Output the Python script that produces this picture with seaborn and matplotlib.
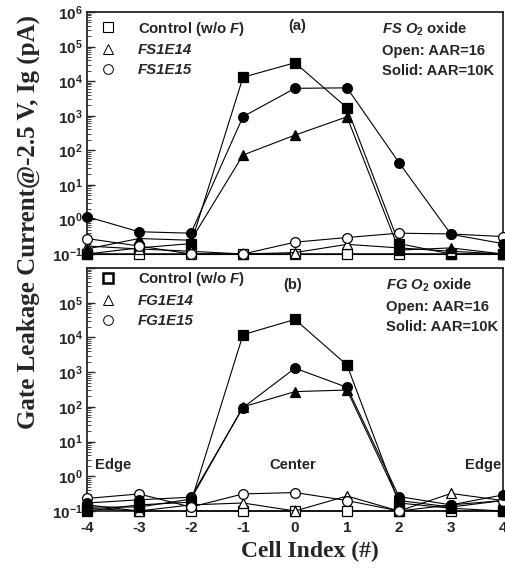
import numpy as np
import pandas as pd
import matplotlib
matplotlib.use("Agg")
import matplotlib.pyplot as plt
import seaborn as sns
from matplotlib.lines import Line2D
from matplotlib.ticker import FixedLocator, FuncFormatter, LogLocator, NullFormatter

# ---------------- data ----------------
cells = [-4, -3, -2, -1, 0, 1, 2, 3, 4]

# panel (a): FS O2 oxide
a_ctrl_16 = [0.1, 0.1, 0.1, 0.1, 0.1, 0.1, 0.1, 0.1, 0.1]
a_ctrl_10k = [0.1, 0.15, 0.2, 1.3e4, 3.4e4, 1.7e3, 0.2, 0.1, 0.1]
a_e14_16 = [0.17, 0.14, 0.12, 0.1, 0.11, 0.19, 0.15, 0.12, 0.1]
a_e14_10k = [0.14, 0.28, 0.25, 73, 275, 930, 0.13, 0.15, 0.1]
a_e15_16 = [0.28, 0.17, 0.1, 0.1, 0.22, 0.3, 0.4, 0.38, 0.32]
a_e15_10k = [1.2, 0.44, 0.4, 940, 6.2e3, 6.4e3, 44, 0.37, 0.2]

# panel (b): FG O2 oxide
b_ctrl_16 = [0.12, 0.1, 0.1, 0.1, 0.1, 0.1, 0.1, 0.1, 0.1]
b_ctrl_10k = [0.1, 0.15, 0.18, 1.2e4, 3.3e4, 1.6e3, 0.17, 0.12, 0.1]
b_e14_16 = [0.15, 0.1, 0.15, 0.17, 0.1, 0.27, 0.1, 0.32, 0.2]
b_e14_10k = [0.13, 0.13, 0.22, 100, 275, 305, 0.2, 0.13, 0.2]
b_e15_16 = [0.23, 0.31, 0.13, 0.31, 0.34, 0.2, 0.1, 0.15, 0.2]
b_e15_10k = [0.17, 0.21, 0.25, 95, 1.3e3, 365, 0.26, 0.15, 0.29]

legend_a = [r"Control (w/o $\mathit{F}$)", "FS1E14", "FS1E15"]
legend_b = [r"Control (w/o $\mathit{F}$)", "FG1E14", "FG1E15"]
x_ticks = [-4, -3, -2, -1, 0, 1, 2, 3, 4]

# ---------------- style ----------------
sns.set_theme(style="ticks")
plt.rcParams.update({
    "font.family": ["Liberation Sans", "DejaVu Sans"],
    "font.weight": "bold",
    "mathtext.fontset": "custom",
    "mathtext.rm": "Liberation Sans:bold",
    "mathtext.bf": "Liberation Sans:bold",
    "mathtext.it": "Liberation Sans:bold:italic",
    "mathtext.default": "rm",
    "axes.linewidth": 1.3,
})

fig = plt.figure(figsize=(5.06, 5.74), dpi=100)
W, H = 506, 574
ax_a = fig.add_axes([87 / W, (H - 254) / H, 416 / W, 242 / H])
ax_b = fig.add_axes([87 / W, (H - 511) / H, 416 / W, 243 / H])

def draw_panel(ax, series):
    for vals, marker, filled in series:
        sns.lineplot(x=cells, y=vals, ax=ax, color="black", linewidth=0.8,
                     marker=marker, markersize=7,
                     markerfacecolor="black" if filled else "white",
                     markeredgecolor="black", markeredgewidth=0.9,
                     clip_on=False, zorder=3)
    ax.set_yscale("log")
    ax.set_ylim(0.1, 1e6)
    ax.set_xlim(-4, 4)
    ax.set_xlabel("")
    ax.set_ylabel("")
    ax.yaxis.set_major_locator(FixedLocator([10.0 ** k for k in range(-1, 7)]))
    ax.yaxis.set_minor_locator(LogLocator(base=10, subs=np.arange(2, 10)))
    ax.yaxis.set_minor_formatter(NullFormatter())
    ax.tick_params(axis="y", which="major", direction="in", length=6, width=1.0,
                   labelsize=11, pad=3)
    ax.tick_params(axis="y", which="minor", direction="in", length=3, width=0.6)
    ax.xaxis.set_major_locator(FixedLocator(x_ticks))
    ax.tick_params(axis="x", which="major", direction="in", length=4, width=1.0,
                   labelsize=11, pad=7)
    for s in ax.spines.values():
        s.set_linewidth(1.3)

series_a = [(a_ctrl_16, "s", False), (a_ctrl_10k, "s", True),
            (a_e14_16, "^", False), (a_e14_10k, "^", True),
            (a_e15_16, "o", False), (a_e15_10k, "o", True)]
series_b = [(b_ctrl_16, "s", False), (b_ctrl_10k, "s", True),
            (b_e14_16, "^", False), (b_e14_10k, "^", True),
            (b_e15_16, "o", False), (b_e15_10k, "o", True)]
draw_panel(ax_a, series_a)
draw_panel(ax_b, series_b)

def fmt_top(v, pos):
    k = int(round(np.log10(v)))
    return r"$10^{%d}$" % k

def fmt_bot(v, pos):
    k = int(round(np.log10(v)))
    if k >= 6:
        return ""
    return r"$10^{%d}$" % k

ax_a.yaxis.set_major_formatter(FuncFormatter(fmt_top))
ax_b.yaxis.set_major_formatter(FuncFormatter(fmt_bot))
ax_a.tick_params(axis="x", labelbottom=False)
ax_b.set_xticklabels([str(t) for t in x_ticks])

# legends
def make_legend(ax, labels, sq_lw, y0):
    handles = [
        Line2D([], [], linestyle="none", marker="s", markersize=7,
               markerfacecolor="white", markeredgecolor="black", markeredgewidth=sq_lw),
        Line2D([], [], linestyle="none", marker="^", markersize=7,
               markerfacecolor="white", markeredgecolor="black", markeredgewidth=0.7),
        Line2D([], [], linestyle="none", marker="o", markersize=7,
               markerfacecolor="white", markeredgecolor="black", markeredgewidth=0.7),
    ]
    leg = ax.legend(handles, labels, loc="upper left", bbox_to_anchor=(0.033, y0),
                    frameon=False, fontsize=10.8, handlelength=1.0,
                    handletextpad=1.5, labelspacing=0.38, borderaxespad=0,
                    borderpad=0)
    for i, t in enumerate(leg.get_texts()):
        if i > 0:
            t.set_fontstyle("italic")
    return leg

make_legend(ax_a, legend_a, 0.8, 0.968)
make_legend(ax_b, legend_b, 1.8, 0.99)

txt = dict(fontsize=10.6, fontweight="bold")
ax_a.text(0.505, 0.942, "(a)", transform=ax_a.transAxes, ha="center", va="center", **txt)
ax_a.text(0.709, 0.930, r"$\mathit{FS\ O_2}$ oxide", transform=ax_a.transAxes, ha="left", va="center", **txt)
ax_a.text(0.709, 0.839, "Open: AAR=16", transform=ax_a.transAxes, ha="left", va="center", **txt)
ax_a.text(0.709, 0.756, "Solid: AAR=10K", transform=ax_a.transAxes, ha="left", va="center", **txt)

ax_b.text(0.495, 0.930, "(b)", transform=ax_b.transAxes, ha="center", va="center", **txt)
ax_b.text(0.718, 0.930, r"$\mathit{FG\ O_2}$ oxide", transform=ax_b.transAxes, ha="left", va="center", **txt)
ax_b.text(0.718, 0.840, "Open: AAR=16", transform=ax_b.transAxes, ha="left", va="center", **txt)
ax_b.text(0.718, 0.757, "Solid: AAR=10K", transform=ax_b.transAxes, ha="left", va="center", **txt)
ax_b.text(0.019, 0.189, "Edge", transform=ax_b.transAxes, ha="left", va="center", **txt)
ax_b.text(0.495, 0.189, "Center", transform=ax_b.transAxes, ha="center", va="center", **txt)
ax_b.text(0.995, 0.189, "Edge", transform=ax_b.transAxes, ha="right", va="center", **txt)

fig.text(28 / W, 1 - 222 / H, "Gate Leakage Current@-2.5 V, Ig (pA)", rotation=90,
         ha="center", va="center", family=["Liberation Serif", "DejaVu Serif"],
         fontweight="bold", fontsize=18)
fig.text(310 / W, 1 - 551 / H, "Cell Index (#)", ha="center", va="center",
         family=["Liberation Serif", "DejaVu Serif"], fontweight="bold", fontsize=17)

fig.savefig("out.png", dpi=100)
